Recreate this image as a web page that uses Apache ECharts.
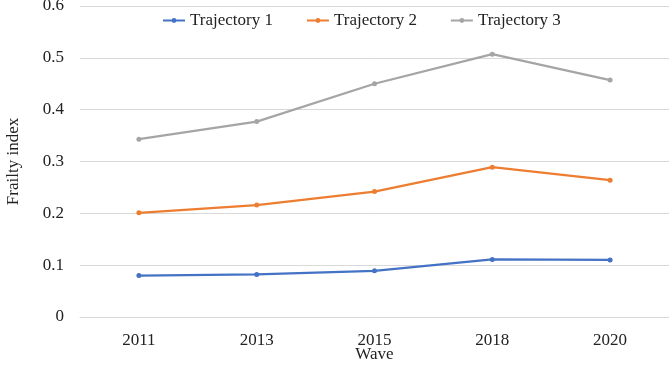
<!DOCTYPE html>
<html>
<head>
<meta charset="utf-8">
<script src="https://cdn.jsdelivr.net/npm/echarts@6/dist/echarts.min.js"></script>
<style>
  html, body { margin: 0; padding: 0; background: #fff; }
  #main { width: 669px; height: 366px; }
</style>
</head>
<body>
<div id="main"></div>
<script>
var waves = ['2011', '2013', '2015', '2018', '2020'];
var traj1 = [0.080, 0.082, 0.089, 0.111, 0.110];
var traj2 = [0.201, 0.216, 0.242, 0.289, 0.264];
var traj3 = [0.343, 0.377, 0.450, 0.507, 0.457];
var yTicks = [0, 0.1, 0.2, 0.3, 0.4, 0.5, 0.6];

var font = '"Liberation Serif", "Times New Roman", serif';

var chart = echarts.init(document.getElementById('main'), null, { renderer: 'canvas' });

function line(name, data, color) {
  return {
    name: name,
    type: 'line',
    data: data,
    symbol: 'circle',
    symbolSize: 5,
    lineStyle: { color: color, width: 2.25 },
    itemStyle: { color: color },
    animation: false
  };
}

var option = {
  backgroundColor: '#ffffff',
  textStyle: { fontFamily: font },
  legend: {
    top: 7,
    left: 157,
    itemWidth: 22,
    itemHeight: 6,
    itemGap: 33,
    textStyle: { fontFamily: font, fontSize: 17, color: '#222' },
    data: ['Trajectory 1', 'Trajectory 2', 'Trajectory 3']
  },
  grid: { left: 80, right: 0, top: 6, bottom: 49, containLabel: false, outerBoundsMode: 'none' },
  xAxis: {
    type: 'category',
    data: waves,
    boundaryGap: true,
    name: 'Wave',
    nameLocation: 'middle',
    nameGap: 29,
    nameMoveOverlap: false,
    nameTextStyle: { fontFamily: font, fontSize: 17, color: '#222' },
    axisLine: { show: true, lineStyle: { color: '#d9d9d9', width: 1 } },
    axisTick: { show: false },
    axisLabel: { fontFamily: font, fontSize: 17, color: '#222', margin: 15 }
  },
  yAxis: {
    type: 'value',
    min: yTicks[0],
    max: yTicks[yTicks.length - 1],
    interval: 0.1,
    name: 'Frailty index',
    nameLocation: 'middle',
    nameGap: 58,
    nameMoveOverlap: false,
    nameTextStyle: { fontFamily: font, fontSize: 17, color: '#222' },
    axisLine: { show: false },
    axisTick: { show: false },
    splitLine: { lineStyle: { color: '#d9d9d9', width: 1 } },
    axisLabel: {
      fontFamily: font, fontSize: 17, color: '#222', margin: 16,
      formatter: function (v) { return String(Math.round(v * 10) / 10); }
    }
  },
  series: [
    line('Trajectory 1', traj1, '#4472C4'),
    line('Trajectory 2', traj2, '#ED7D31'),
    line('Trajectory 3', traj3, '#A5A5A5')
  ]
};

chart.setOption(option);
</script>
</body>
</html>
